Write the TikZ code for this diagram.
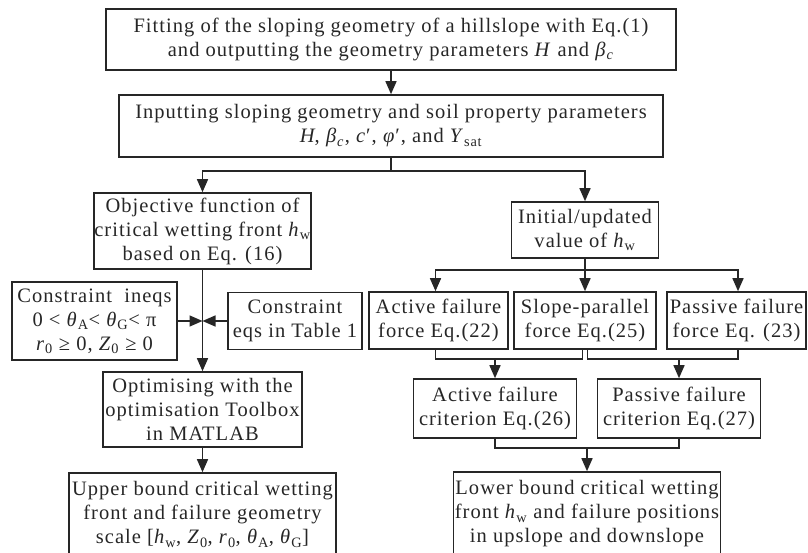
\documentclass[tikz,border=0pt]{standalone}
\usepackage{fontspec}
\setmainfont{Liberation Serif}
\newfontfamily\boxfont{Liberation Serif}[LetterSpace=5]
\usepackage{tikz}
\usetikzlibrary{arrows.meta}
\definecolor{ink}{HTML}{262626}
\newcommand{\sbs}[1]{\textsubscript{#1}}
\tikzset{box/.style={draw=ink,text=ink,line width=1.6pt,align=center,inner sep=0pt,
           font=\boxfont\fontsize{20.5}{24}\selectfont},
         link/.style={draw=ink,line width=1.5pt},
         arr/.style={link,-{Triangle[length=13pt,width=11pt]}}}

\begin{document}
\begin{tikzpicture}[x=1pt,y=-1pt]
  \useasboundingbox (0,0) rectangle (808,553);
  \node[box,minimum width=570pt,minimum height=61pt] (fit) at (391,39.5)
    {Fitting of the sloping geometry of a hillslope with Eq.(1)\\
     and outputting the geometry parameters \textit{H} and \textit{β}\sbs{\textit{c}}};
  \node[box,minimum width=544pt,minimum height=62pt] (input) at (391,126)
    {Inputting sloping geometry and soil property parameters\\
     \textit{H}, \textit{β}\sbs{\textit{c}}, \textit{c}′, \textit{φ}′, and \textit{Υ}\sbs{sat}};
  \node[box,minimum width=217pt,minimum height=76pt] (objfun) at (202.5,231)
    {Objective function of\\ critical wetting front \textit{h}\sbs{w}\\ based on Eq. (16)};
  \node[box,minimum width=165pt,minimum height=78pt] (ineqs) at (94.5,321)
    {Constraint~ ineqs\\ 0 < \textit{θ}\sbs{A}< \textit{θ}\sbs{G}< π\\
     \textit{r}\sbs{0} ≥ 0, \textit{Z}\sbs{0} ≥ 0};
  \node[box,minimum width=134pt,minimum height=57pt] (eqs) at (295,321)
    {Constraint\\ eqs in Table 1};
  \node[box,minimum width=199pt,minimum height=75pt] (optim) at (202.5,409.5)
    {Optimising with the\\ optimisation Toolbox\\ in MATLAB};
  \node[box,minimum width=267pt,minimum height=83pt] (upper) at (202.5,514.5)
    {Upper bound critical wetting\\ front and failure geometry\\
     scale [\textit{h}\sbs{w}, \textit{Z}\sbs{0}, \textit{r}\sbs{0}, \textit{θ}\sbs{A}, \textit{θ}\sbs{G}]};
  \node[box,minimum width=147pt,minimum height=56pt] (init) at (585,230)
    {Initial/updated\\ value of \textit{h}\sbs{w}};
  \node[box,minimum width=139pt,minimum height=57pt] (actF) at (438.5,320.5)
    {Active failure\\ force Eq.(22)};
  \node[box,minimum width=142pt,minimum height=57pt] (slopeF) at (585,320.5)
    {Slope-parallel\\ force Eq.(25)};
  \node[box,minimum width=139pt,minimum height=57pt] (passF) at (736.5,320.5)
    {Passive failure\\ force Eq. (23)};
  \node[box,minimum width=163pt,minimum height=59pt] (actC) at (495,408.5)
    {Active failure\\ criterion Eq.(26)};
  \node[box,minimum width=163pt,minimum height=59pt] (passC) at (679,408.5)
    {Passive failure\\ criterion Eq.(27)};
  \node[box,minimum width=267pt,minimum height=84pt] (lower) at (587,514)
    {Lower bound critical wetting\\ front \textit{h}\sbs{w} and failure positions\\
     in upslope and downslope};
  \coordinate (split) at (391,171);
  \coordinate (meet) at (202.5,321);
  \coordinate (fan) at (585,270);
  \coordinate (joinA) at (495,359);
  \coordinate (joinP) at (679,359);
  \coordinate (joinL) at (587,448);
  \draw[arr] (fit) -- (input);
  \draw[link] (input.south) -- (split);
  \draw[arr] (split) -| (objfun.north);
  \draw[arr] (split) -| (init.north);
  \draw[arr] (objfun) -- (optim);
  \draw[arr] (ineqs.east) -- (meet);
  \draw[arr] (eqs.west) -- (meet);
  \draw[arr] (optim) -- (upper);
  \draw[link] (init.south) -- (fan);
  \draw[arr] (fan) -| ([xshift=-3pt]actF.north);
  \draw[arr] (fan) -- (slopeF.north);
  \draw[arr] (fan) -| ([xshift=1.5pt]passF.north);
  \draw[link] ([xshift=-3pt]actF.south) |- (joinA) -| ([xshift=-2.5pt]slopeF.south);
  \draw[link] ([xshift=2.5pt]slopeF.south) |- (joinP) -| ([xshift=1.5pt]passF.south);
  \draw[arr] (joinA) -- (actC);
  \draw[arr] (joinP) -- (passC);
  \draw[link] (actC.south) |- (joinL) -| (passC.south);
  \draw[arr] (joinL) -- (lower);
\end{tikzpicture}
\end{document}
